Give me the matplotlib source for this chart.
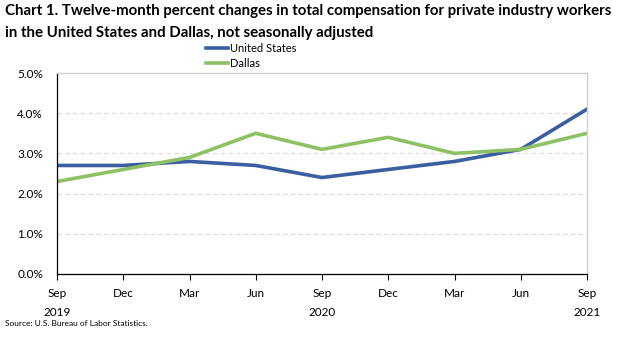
import numpy as np
import matplotlib
matplotlib.use('Agg')
import matplotlib.pyplot as plt
from matplotlib.ticker import PercentFormatter

plt.rcParams['font.family'] = ['Lato', 'DejaVu Sans']

months = ['Sep\n2019', 'Dec', 'Mar', 'Jun', 'Sep\n2020', 'Dec', 'Mar', 'Jun', 'Sep\n2021']
us = [2.7, 2.7, 2.8, 2.7, 2.4, 2.6, 2.8, 3.1, 4.1]
dallas = [2.3, 2.6, 2.9, 3.5, 3.1, 3.4, 3.0, 3.1, 3.5]

fig = plt.figure(figsize=(6.25, 3.37), dpi=100)
ax = fig.add_axes([57 / 625, 1 - 274 / 337, 530 / 625, 201 / 337])

x = np.arange(len(months))
l1, = ax.plot(x, us, color='#3a5fa0', lw=2.6, label='United States')
l2, = ax.plot(x, dallas, color='#8dc163', lw=2.6, label='Dallas')

ax.set_xlim(0, len(months) - 1)
ax.set_ylim(0, 5)
ax.set_yticks(np.arange(0, 5.1, 1))
ax.yaxis.set_major_formatter(PercentFormatter(decimals=1))
ax.set_xticks(x)
ax.set_xticklabels(months, fontsize=8.5, linespacing=1.9)
ax.tick_params(axis='y', length=0, labelsize=8.5, pad=10)
ax.tick_params(axis='x', length=4, width=0.8, pad=6, direction='out')
ax.grid(axis='y', color='#d9d9d9', ls=(0, (4, 3)), lw=0.8)
ax.set_axisbelow(True)
for s in ['top', 'right']:
    ax.spines[s].set_color('#d0d0d0')
    ax.spines[s].set_linewidth(1)
for s in ['left', 'bottom']:
    ax.spines[s].set_color('black')
    ax.spines[s].set_linewidth(0.9)

fig.legend(handles=[l1, l2], loc='center', bbox_to_anchor=(251 / 625, 1 - 56 / 337),
           frameon=False, fontsize=8, handlelength=2.0, handletextpad=0.2,
           labelspacing=0.4, borderpad=0)

fig.text(5 / 625, 1 - 4 / 337,
         'Chart 1. Twelve-month percent changes in total compensation for private industry workers\n'
         'in the United States and Dallas, not seasonally adjusted',
         fontsize=10.8, fontweight='bold', va='top', ha='left', linespacing=1.75)
fig.text(5 / 625, 1 - 324 / 337, 'Source: U.S. Bureau of Labor Statistics.', fontsize=6,
         va='center', ha='left')

fig.savefig('out.png', dpi=100)
